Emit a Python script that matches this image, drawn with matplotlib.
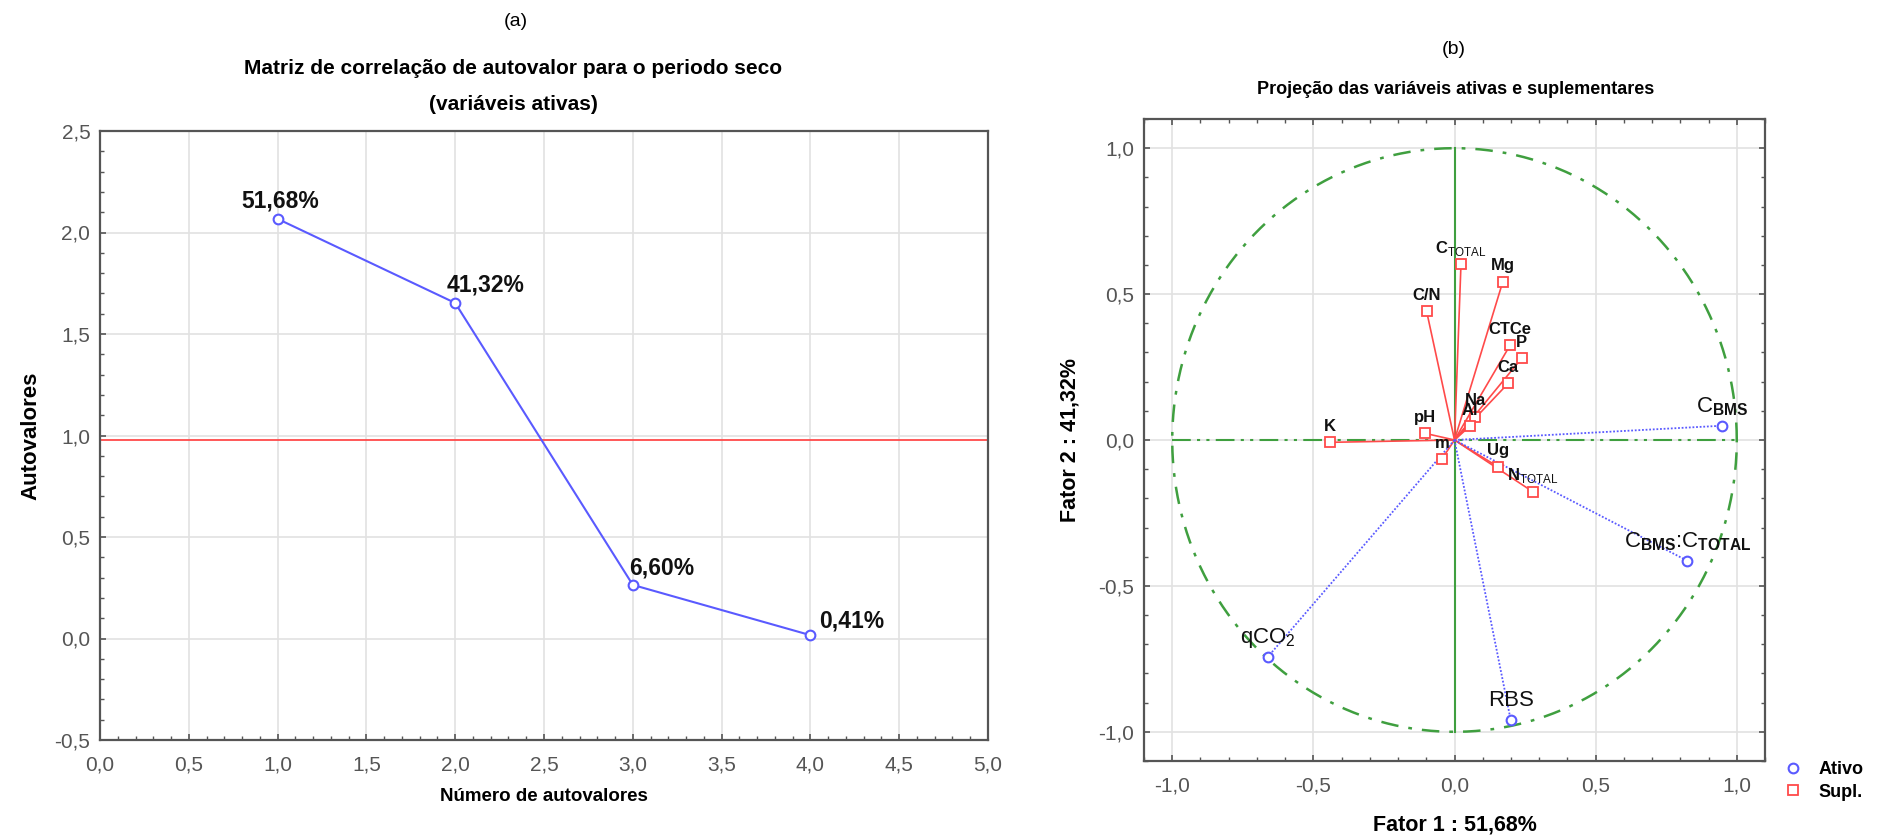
import numpy as np
import matplotlib
matplotlib.use("Agg")
import matplotlib.pyplot as plt
from matplotlib.ticker import MultipleLocator, FuncFormatter
from matplotlib.lines import Line2D

plt.rcParams['font.family'] = ['Liberation Sans', 'DejaVu Sans']
plt.rcParams['mathtext.fontset'] = 'custom'
plt.rcParams['mathtext.rm'] = 'Liberation Sans'
plt.rcParams['mathtext.bf'] = 'Liberation Sans:bold'

# --- eigenvalues (dry period, active variables) ---
n_vars = 4
n_eigen = [1, 2, 3, 4]
eigenvalues = [2.0672, 1.6528, 0.264, 0.0164]
kaiser_line = 0.98

# --- variable projections on factors 1 and 2 ---
active_names = ["C_BMS", "C_BMS:C_TOTAL", "qCO2", "RBS"]
active_f1 = [0.949, 0.825, -0.662, 0.199]
active_f2 = [0.049, -0.414, -0.744, -0.959]

supl_names = ["C_TOTAL", "Mg", "C/N", "CTCe", "P", "Ca", "Na", "Al", "pH", "m", "Ug", "N_TOTAL", "K"]
supl_f1 = [0.023, 0.171, -0.099, 0.197, 0.238, 0.190, 0.073, 0.055, -0.105, -0.045, 0.153, 0.277, -0.441]
supl_f2 = [0.603, 0.542, 0.442, 0.325, 0.280, 0.194, 0.080, 0.048, 0.023, -0.066, -0.091, -0.177, -0.008]

factor_pct = [51.68, 41.32]

label_tex = {
    "C_BMS": r"C$_{\mathbf{BMS}}$",
    "C_BMS:C_TOTAL": r"C$_{\mathbf{BMS}}$:C$_{\mathbf{TOTAL}}$",
    "qCO2": r"qCO$_2$",
    "C_TOTAL": r"C$_{\mathrm{TOTAL}}$",
    "N_TOTAL": r"N$_{\mathrm{TOTAL}}$",
}

BLUE = "#5a5aff"
RED = "#ff4a4a"
GREEN = "#3f9f3f"
GRID = "#e2e2e2"
FRAME = "#555555"
TICKC = "#555555"


def comma(v, pos=None):
    return f"{v:.1f}".replace(".", ",").replace("-0,0", "0,0")


def style_axes(ax, all_sides=False):
    for s in ax.spines.values():
        s.set_color(FRAME)
        s.set_linewidth(1.6)
    ax.tick_params(which="both", direction="in", colors=FRAME, labelcolor=TICKC,
                   labelsize=15, top=all_sides, right=all_sides)
    ax.tick_params(which="major", length=4, width=1.2)
    ax.tick_params(which="minor", length=3, width=1.0)
    ax.tick_params(axis="x", pad=11)
    ax.tick_params(axis="y", pad=7)
    ax.xaxis.set_major_formatter(FuncFormatter(comma))
    ax.yaxis.set_major_formatter(FuncFormatter(comma))
    ax.grid(True, which="major", color=GRID, linewidth=1.2)
    ax.set_axisbelow(True)


fig = plt.figure(figsize=(18.9, 8.35), dpi=100)

# ---------- (a) scree plot ----------
ax1 = fig.add_axes([100 / 1890, 95 / 835, 888 / 1890, 609 / 835])
style_axes(ax1)
ax1.set_xlim(0, 5)
ax1.set_ylim(-0.5, 2.5)
ax1.xaxis.set_major_locator(MultipleLocator(0.5))
ax1.yaxis.set_major_locator(MultipleLocator(0.5))
ax1.xaxis.set_minor_locator(MultipleLocator(0.1))
ax1.yaxis.set_minor_locator(MultipleLocator(0.1))

ax1.axhline(kaiser_line, color=RED, linewidth=1.3)
ax1.plot(n_eigen, eigenvalues, color=BLUE, linewidth=1.5, marker="o",
         markersize=7, markerfacecolor="white", markeredgecolor=BLUE, markeredgewidth=1.5)

offsets = [(2, 13, "center"), (-6, 13, "left"), (-3, 12, "left"), (6, 10, "left")]
for x, y, (dx, dy, ha) in zip(n_eigen, eigenvalues, offsets):
    pct = f"{100 * y / n_vars:.2f}".replace(".", ",") + "%"
    ax1.annotate(pct, (x, y), xytext=(dx, dy), textcoords="offset points",
                 ha=ha, va="center", fontsize=16.5, fontweight="bold", color="#111111")

ax1.set_xlabel("Número de autovalores", fontsize=13.5, fontweight="bold")
ax1.set_ylabel("Autovalores", fontsize=16, fontweight="bold")
ax1.xaxis.set_label_coords(0.5, -0.079)
ax1.yaxis.set_label_coords(-0.066, 0.5)

fig.text(516 / 1890, 1 - 22 / 835, "(a)", ha="center", va="center", fontsize=14)
fig.text(513 / 1890, 1 - 69 / 835, "Matriz de correlação de autovalor para o periodo seco",
         ha="center", va="center", fontsize=15, fontweight="bold")
fig.text(513 / 1890, 1 - 105 / 835, "(variáveis ativas)",
         ha="center", va="center", fontsize=15, fontweight="bold")

# ---------- (b) projection of variables ----------
ax2 = fig.add_axes([1144 / 1890, 74 / 835, 621 / 1890, 642 / 835])
style_axes(ax2, all_sides=True)
ax2.set_xlim(-1.1, 1.1)
ax2.set_ylim(-1.1, 1.1)
ax2.xaxis.set_major_locator(MultipleLocator(0.5))
ax2.yaxis.set_major_locator(MultipleLocator(0.5))
ax2.xaxis.set_minor_locator(MultipleLocator(0.1))
ax2.yaxis.set_minor_locator(MultipleLocator(0.1))

# unit circle and axes through the origin
theta = np.linspace(0, 2 * np.pi, 400)
ax2.plot(np.cos(theta), np.sin(theta), color=GREEN, linewidth=1.8,
         linestyle=(0, (7, 4, 1.5, 4)))
ax2.plot([-1, 1], [0, 0], color=GREEN, linewidth=1.5, linestyle=(0, (9, 3, 1.5, 3, 1.5, 3)))
ax2.plot([0, 0], [-1, 1], color=GREEN, linewidth=1.5)

for x, y in zip(supl_f1, supl_f2):
    ax2.plot([0, x], [0, y], color=RED, linewidth=1.2)
for x, y in zip(active_f1, active_f2):
    ax2.plot([0, x], [0, y], color=BLUE, linewidth=1.3, linestyle=(0, (1, 1)))

ax2.plot(supl_f1, supl_f2, linestyle="none", marker="s", markersize=7,
         markerfacecolor="white", markeredgecolor=RED, markeredgewidth=1.3, label="Supl.")
ax2.plot(active_f1, active_f2, linestyle="none", marker="o", markersize=7,
         markerfacecolor="white", markeredgecolor=BLUE, markeredgewidth=1.5, label="Ativo")

for name, x, y in zip(supl_names, supl_f1, supl_f2):
    ax2.annotate(label_tex.get(name, name), (x, y), xytext=(0, 11.5),
                 textcoords="offset points", ha="center", va="center",
                 fontsize=12, fontweight="bold", color="#111111")
for name, x, y in zip(active_names, active_f1, active_f2):
    ax2.annotate(label_tex.get(name, name), (x, y), xytext=(0, 14),
                 textcoords="offset points", ha="center", va="center",
                 fontsize=16, color="#111111")

ax2.set_xlabel(f"Fator 1 : {factor_pct[0]:.2f}%".replace(".", ","),
               fontsize=15.5, fontweight="bold")
ax2.set_ylabel(f"Fator 2 : {factor_pct[1]:.2f}%".replace(".", ","),
               fontsize=15.5, fontweight="bold")
ax2.xaxis.set_label_coords(0.5, -0.083)
ax2.yaxis.set_label_coords(-0.103, 0.5)

fig.text(1454 / 1890, 1 - 49 / 835, "(b)", ha="center", va="center", fontsize=14)
fig.text(1456 / 1890, 1 - 89 / 835, "Projeção das variáveis ativas e suplementares",
         ha="center", va="center", fontsize=13, fontweight="bold")

handles = [
    Line2D([], [], linestyle="none", marker="o", markersize=7, markerfacecolor="white",
           markeredgecolor=BLUE, markeredgewidth=1.5),
    Line2D([], [], linestyle="none", marker="s", markersize=7, markerfacecolor="white",
           markeredgecolor=RED, markeredgewidth=1.3),
]
fig.legend(handles, ["Ativo", "Supl."], loc="upper left",
           bbox_to_anchor=(1775 / 1890, 1 - 754 / 835), frameon=False,
           prop={"size": 13, "weight": "bold"}, handlelength=1.2, handletextpad=0.8,
           labelspacing=0.3, borderaxespad=0)

fig.savefig("out.png", dpi=100)
